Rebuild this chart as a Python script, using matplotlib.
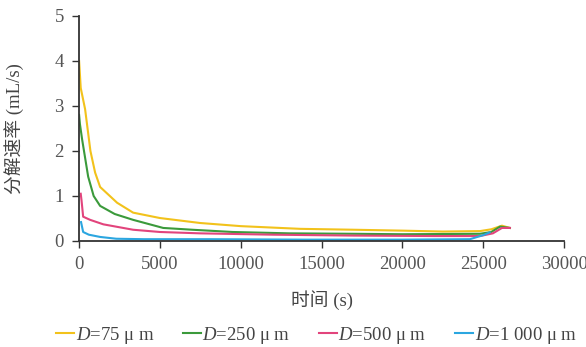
import matplotlib
matplotlib.use("Agg")
import matplotlib.pyplot as plt

plt.rcParams['font.family'] = ['Liberation Serif', 'Noto Sans CJK SC', 'DejaVu Sans']
plt.rcParams['mathtext.fontset'] = 'custom'
plt.rcParams['mathtext.it'] = 'Liberation Serif:italic'
plt.rcParams['mathtext.rm'] = 'Liberation Serif'

# Data (time in s, rate in mL/s)
t_75 = [0, 100, 370, 700, 990, 1300, 2350, 3340, 5000, 7480, 10000, 13670, 17000, 20000, 22500, 24800, 25500, 26160, 26650]
r_75 = [4.0, 3.4, 2.93, 2.0, 1.52, 1.2, 0.85, 0.63, 0.51, 0.40, 0.33, 0.27, 0.25, 0.23, 0.21, 0.22, 0.26, 0.34, 0.29]

t_250 = [0, 50, 185, 560, 900, 1300, 2200, 3340, 5200, 7000, 9500, 13000, 17000, 20000, 24800, 25500, 26040, 26650]
r_250 = [2.8, 2.6, 2.26, 1.43, 1.0, 0.78, 0.6, 0.47, 0.29, 0.25, 0.2, 0.17, 0.16, 0.15, 0.16, 0.2, 0.32, 0.29]

t_500 = [100, 150, 250, 680, 1500, 3340, 5000, 7480, 12000, 17000, 22000, 24800, 25600, 26160, 26650]
r_500 = [1.05, 0.9, 0.54, 0.47, 0.37, 0.25, 0.2, 0.17, 0.14, 0.12, 0.11, 0.11, 0.17, 0.29, 0.29]

t_1000 = [120, 250, 600, 1300, 2300, 4000, 8000, 14000, 20000, 24180, 25000, 25400]
r_1000 = [0.42, 0.2, 0.14, 0.09, 0.05, 0.04, 0.04, 0.03, 0.03, 0.04, 0.13, 0.19]

labels = [r"$D$=75 μ m", r"$D$=250 μ m", r"$D$=500 μ m", r"$D$=1 000 μ m"]
colors = ["#f2c21b", "#3b9a3b", "#e2447c", "#2ba6e0"]

xticks = [0, 5000, 10000, 15000, 20000, 25000, 30000]
yticks = [0, 1, 2, 3, 4, 5]

fig = plt.figure(figsize=(5.86, 3.47), dpi=100)
ax = fig.add_axes([0.135, 0.3055, 0.8275, 0.6485])

series = [(t_75, r_75), (t_250, r_250), (t_500, r_500), (t_1000, r_1000)]
for (t, r), c, lab in zip(series, colors, labels):
    ax.plot(t, r, color=c, lw=1.5, label=lab)

ax.set_xlim(0, 30000)
ax.set_ylim(0, 5)
ax.set_xticks(xticks)
ax.set_yticks(yticks)
for s in ['top', 'right']:
    ax.spines[s].set_visible(False)
for s in ['left', 'bottom']:
    ax.spines[s].set_color('#333333')
    ax.spines[s].set_linewidth(1.3)
ax.tick_params(colors='#333333', labelcolor='#555555', labelsize=13.5, length=5, width=1)
ax.tick_params(axis='x', pad=6)
ax.tick_params(axis='y', pad=6)

ax.set_xlabel("时间 (s)", fontsize=13.5, color='#444444', labelpad=12)
ax.set_ylabel("分解速率 (mL/s)", fontsize=13.5, color='#444444', labelpad=22)

leg = fig.legend(loc='lower center', bbox_to_anchor=(0.54, -0.045), ncol=4, frameon=False,
                 fontsize=13.5, handlelength=0.95, handletextpad=0.1, columnspacing=1.5)
for txt in leg.get_texts():
    txt.set_color('#444444')

fig.savefig("out.png", dpi=100)
